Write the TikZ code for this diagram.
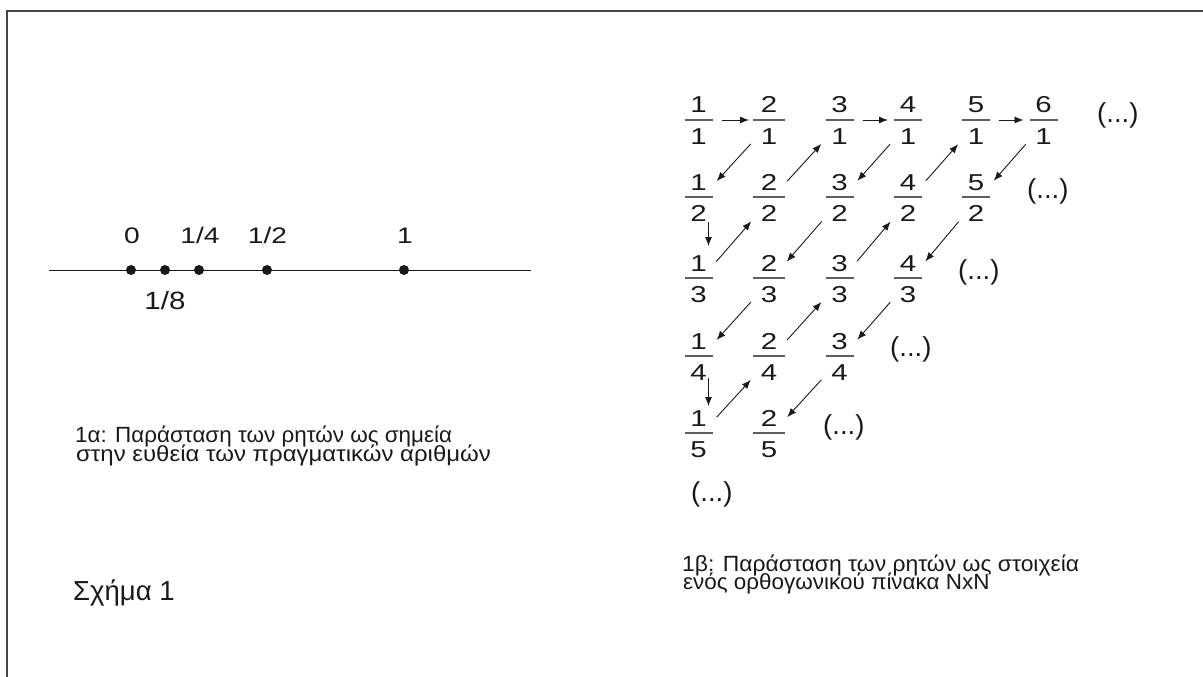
\documentclass[tikz,border=0pt]{standalone}
\usepackage{fontspec}
\setmainfont{Liberation Sans}
\newfontfamily\digfont[FakeStretch=1.28]{Liberation Sans}
\newfontfamily\nlfont[FakeStretch=1.25]{Liberation Sans}
\newfontfamily\neightfont[FakeStretch=1.18]{Liberation Sans}
\newfontfamily\capa[FakeStretch=1.02]{Liberation Sans}
\newfontfamily\capb[FakeStretch=1.09]{Liberation Sans}
\newfontfamily\capc[FakeStretch=1.04]{Liberation Sans}
\usetikzlibrary{arrows.meta,calc}
\definecolor{ink}{RGB}{25,25,25}
\definecolor{barc}{RGB}{95,95,95}
\definecolor{framec}{RGB}{70,70,70}
\tikzset{
  fr/.style={circle, minimum size=54pt, inner sep=0pt, outer sep=0pt},
  dig/.style={anchor=base, inner sep=0pt, text=ink, font=\digfont\fontsize{23}{23}\selectfont},
  fbar/.style={line width=1.4pt, draw=barc},
  arr/.style={line width=0.9pt, draw=ink, -{Latex[length=9pt,width=7pt]}},
  harr/.style={arr, shorten <=-4pt, shorten >=-7pt},
  dts/.style={anchor=base west, inner sep=0pt, text=ink, font=\fontsize{27.5}{27.5}\selectfont},
  nl/.style={anchor=base, inner sep=0pt, text=ink, font=\nlfont\fontsize{22.5}{22.5}\selectfont},
  nleight/.style={anchor=base, inner sep=0pt, text=ink, font=\neightfont\fontsize{25}{25}\selectfont},
  dot/.style={circle, fill=ink, minimum size=10pt, inner sep=0pt},
  axis/.style={line width=1pt, draw=ink},
  captxt/.style={anchor=base west, inner sep=0pt, text=ink, font=\fontsize{22}{19}\selectfont},
  ttl/.style={anchor=base west, inner sep=0pt, text=ink, font=\fontsize{27.5}{27.5}\selectfont},
  framel/.style={line width=2pt, draw=framec}
}
% name, x, y of bar, numerator, denominator, half bar length
\newcommand\frc[6]{%
  \node[fr] (#1) at (#2,#3+4) {};
  \node[dig] (#1n) at ([yshift=11pt]#1.center) {#4};
  \node[dig] (#1d) at ([yshift=-20pt]#1.center) {#5};
  \draw[fbar] ([xshift=-#6pt,yshift=4pt]#1.center) -- ([xshift=#6pt,yshift=4pt]#1.center);
}
\begin{document}
\begin{tikzpicture}[x=1pt,y=-1pt]
\useasboundingbox (0,0) rectangle (1203,677);
% frame
\coordinate (fa) at (1203,11);
\coordinate (fb) at (6.5,11);
\coordinate (fc) at (6.5,677);
\draw[framel] (fa) -- (fb) -- (fc);

% number line
\coordinate (L0) at (49,270);
\coordinate (L1) at (531,270);
\draw[axis] (L0) -- (L1);
\node[dot] (p0) at (131,270) {};
\node[dot] (p8) at (165,270) {};
\node[dot] (p4) at (199,270) {};
\node[dot] (p2) at (267,270) {};
\node[dot] (p1) at (404,270) {};
\node[nl] (t0) at (132,243) {0};
\node[nl] (t4) at (200,243) {1/4};
\node[nl] (t2) at (267.5,243) {1/2};
\node[nl] (t1) at (405,243) {1};
\node[nleight] (t8) at (165,309) {1/8};

% captions
\node[captxt] (c1) at (75,442) {\capa 1α: Παράσταση των ρητών ως σημεία};
\node[captxt] (c2) at (76,461) {\capb στην ευθεία των πραγματικών αριθμών};
\node[ttl] (s1) at (73,600) {Σχήμα 1};
\node[captxt] (c3) at (682,571) {\capc 1β: Παράσταση των ρητών ως στοιχεία};
\node[captxt] (c4) at (683,589) {\capa ενός ορθογωνικού πίνακα NxN};

% fractions
\frc{n11}{698.5}{120}{1}{1}{14}
\frc{n21}{769}{120}{2}{1}{16}
\frc{n31}{839.5}{120}{3}{1}{14}
\frc{n41}{908}{120}{4}{1}{14}
\frc{n51}{976}{120}{5}{1}{14}
\frc{n61}{1043.5}{120}{6}{1}{14}
\frc{n12}{698.5}{197}{1}{2}{14}
\frc{n22}{769}{197}{2}{2}{16}
\frc{n32}{839.5}{197}{3}{2}{14}
\frc{n42}{908}{197}{4}{2}{14}
\frc{n52}{976}{197}{5}{2}{14}
\frc{n13}{698.5}{278}{1}{3}{14}
\frc{n23}{769}{278}{2}{3}{16}
\frc{n33}{839.5}{278}{3}{3}{14}
\frc{n43}{908}{278}{4}{3}{14}
\frc{n14}{698.5}{356}{1}{4}{14}
\frc{n24}{769}{356}{2}{4}{16}
\frc{n34}{839.5}{356}{3}{4}{14}
\frc{n15}{698.5}{433}{1}{5}{14}
\frc{n25}{769}{433}{2}{5}{16}

% ellipses
\node[dts] (d1) at (1097,122) {(...)};
\node[dts] (d2) at (1027,198) {(...)};
\node[dts] (d3) at (958,279) {(...)};
\node[dts] (d4) at (890,356) {(...)};
\node[dts] (d5) at (823,434) {(...)};
\node[dts] (d6) at (691,501) {(...)};

% horizontal arrows
\draw[harr] ([yshift=4pt]n11.east) -- ([yshift=4pt]n21.west);
\draw[harr] ([yshift=4pt]n31.east) -- ([yshift=4pt]n41.west);
\draw[harr] ([yshift=4pt]n51.east) -- ([yshift=4pt]n61.west);
% vertical arrows
\draw[arr] ([xshift=10pt,yshift=6pt]n12.south) -- ([xshift=10pt,yshift=9pt]n13.north);
\draw[arr] ([xshift=10pt,yshift=9pt]n14.south) -- ([xshift=10pt,yshift=4pt]n15.north);
% down-left diagonals
\draw[arr] (n21) -- (n12);
\draw[arr] (n41) -- (n32);
\draw[arr] (n61) -- (n52);
\draw[arr] (n32) -- (n23);
\draw[arr] (n52) -- (n43);
\draw[arr] (n23) -- (n14);
\draw[arr] (n43) -- (n34);
\draw[arr] (n34) -- (n25);
% up-right diagonals
\draw[arr] (n22) -- (n31);
\draw[arr] (n42) -- (n51);
\draw[arr] (n13) -- (n22);
\draw[arr] (n33) -- (n42);
\draw[arr] (n24) -- (n33);
\draw[arr] (n15) -- (n24);
\end{tikzpicture}
\end{document}
